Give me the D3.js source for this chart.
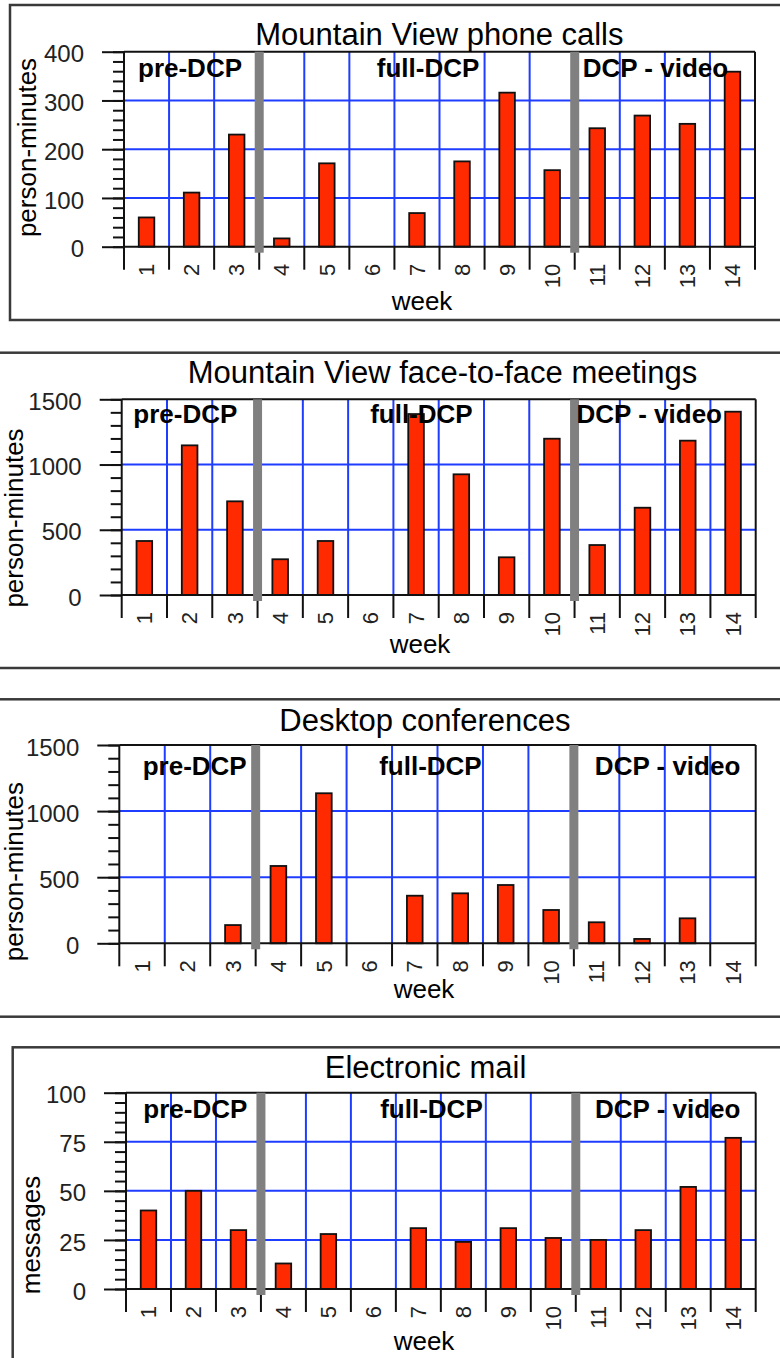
<!DOCTYPE html>
<html>
<head>
<meta charset="utf-8">
<script src="https://cdn.jsdelivr.net/npm/d3@7"></script>
<style>
html, body { margin: 0; padding: 0; background: #fff; }
svg { display: block; font-family: "Liberation Sans", Arial, Helvetica, sans-serif; }
</style>
</head>
<body>
<svg id="SVG_CONTAINER" width="780" height="1358"></svg>
<script>
// ---- data ----
const weeks = ["1", "2", "3", "4", "5", "6", "7", "8", "9", "10", "11", "12", "13", "14"];

const phoneCalls  = [60, 111, 230, 17, 171, 0, 69, 175, 316, 157, 243, 269, 252, 359];
const faceToFace  = [414, 1147, 718, 274, 414, 0, 1387, 925, 289, 1198, 383, 669, 1183, 1405];
const desktopConf = [0, 0, 138, 585, 1135, 0, 360, 378, 441, 252, 159, 33, 189, 0];
const emailMsgs   = [40, 50, 30, 13, 28, 0, 31, 24, 31, 26, 25, 30, 52, 77];

const phoneTicks   = [0, 100, 200, 300, 400];
const meetingTicks = [0, 500, 1000, 1500];
const desktopTicks = [0, 500, 1000, 1500];
const emailTicks   = [0, 25, 50, 75, 100];

const titles  = ["Mountain View phone calls", "Mountain View face-to-face meetings",
                 "Desktop conferences", "Electronic mail"];
const yLabels = ["person-minutes", "person-minutes", "person-minutes", "messages"];

const phaseNames      = ["pre-DCP", "full-DCP", "DCP - video"];
const phaseStartWeeks = ["1", "6", "11"];
const phaseBreaks     = [3, 10];   // grey divider after these weeks

// ---- colours ----
const RED  = "#ff2a00";
const BLUE = "#1f3dff";
const GREY = "#808080";

//layout of each panel (pixels)
const PANELS = [
    {title: titles[0], values: phoneCalls, ticks: phoneTicks, minor: 20, yLabel: yLabels[0],
     frame: {x: 10, y: 5, w: 775, h: 315},
     plot: {left: 124, right: 755, top: 51.7, bottom: 246.7},
     titleX: 439.4, titleY: 45, yLabelX: 36, yLabelY: 147.5, weekX: 422, weekY: 310,
     phaseY: 76.5, phaseDx: [14, 27.4, 8]},
    {title: titles[1], values: faceToFace, ticks: meetingTicks, minor: 100, yLabel: yLabels[1],
     frame: {x: -5, y: 352.7, w: 790, h: 315.3},
     plot: {left: 121.7, right: 755.7, top: 399.3, bottom: 595},
     titleX: 442.5, titleY: 382.7, yLabelX: 23, yLabelY: 518, weekX: 420, weekY: 653.3,
     phaseY: 423.3, phaseDx: [11.6, 22, 2]},
    {title: titles[2], values: desktopConf, ticks: desktopTicks, minor: 100, yLabel: yLabels[2],
     frame: {x: -5, y: 699.3, w: 790, h: 317.4},
     plot: {left: 119.3, right: 755.7, top: 745, bottom: 943.3},
     titleX: 424.9, titleY: 730.7, yLabelX: 23, yLabelY: 871.7, weekX: 424, weekY: 998.3,
     phaseY: 775, phaseDx: [23.4, 32.6, 21]},
    {title: titles[3], values: emailMsgs, ticks: emailTicks, minor: 5, yLabel: yLabels[3],
     frame: {x: 12.7, y: 1047.3, w: 775, h: 400},
     plot: {left: 126, right: 755.7, top: 1092.7, bottom: 1289},
     titleX: 425.5, titleY: 1077.7, yLabelX: 40, yLabelY: 1235, weekX: 424, weekY: 1350,
     phaseY: 1118.3, phaseDx: [17.3, 29.3, 19.2]}
];

let SVG = d3.select("#SVG_CONTAINER");
PANELS.forEach(p => drawPanel(SVG, p));

function drawPanel(svg, p) {
    const g = svg.append("g");
    const pl = p.plot;
    const yMax = p.ticks[p.ticks.length - 1];

    //** SCALES *****************************************
    const x = d3.scaleBand().domain(weeks).range([pl.left, pl.right]);
    const xEdge = d3.scaleLinear().domain([0, weeks.length]).range([pl.left, pl.right]);
    const y = d3.scaleLinear().domain([0, yMax]).range([pl.bottom, pl.top]);
    const edges = d3.range(0, weeks.length + 1);

    //frame
    g.append("rect")
        .attr("x", p.frame.x).attr("y", p.frame.y)
        .attr("width", p.frame.w).attr("height", p.frame.h)
        .attr("fill", "#fff").attr("stroke", "#3a3a3a").attr("stroke-width", 2.5);

    //** GRID *****************************************
    g.append("g").selectAll("line")
        .data(edges.slice(1, -1))
        .join("line")
        .attr("x1", d => xEdge(d)).attr("x2", d => xEdge(d))
        .attr("y1", pl.top).attr("y2", pl.bottom)
        .attr("stroke", BLUE).attr("stroke-width", 2);

    g.append("g").selectAll("line")
        .data(p.ticks.slice(1, -1))
        .join("line")
        .attr("x1", pl.left).attr("x2", pl.right)
        .attr("y1", d => y(d)).attr("y2", d => y(d))
        .attr("stroke", BLUE).attr("stroke-width", 2);

    //** BARS *****************************************
    const barW = x.bandwidth() * 0.345;
    const rows = weeks.map((w, i) => ({week: w, value: p.values[i]})).filter(d => d.value > 0);
    g.append("g").selectAll("rect")
        .data(rows)
        .join("rect")
        .attr("x", d => x(d.week) + (x.bandwidth() - barW) / 2)
        .attr("y", d => y(d.value))
        .attr("width", barW)
        .attr("height", d => y(0) - y(d.value))
        .attr("fill", RED).attr("stroke", "#111").attr("stroke-width", 1.8);

    //** AXES *****************************************
    g.append("g")
        .attr("transform", "translate(" + pl.left + ",0)")
        .call(d3.axisLeft(y).tickValues(d3.range(0, yMax + 1, p.minor)).tickSize(11).tickFormat(""))
        .call(a => {
            a.select(".domain").remove();
            a.selectAll("line").attr("stroke", "#111").attr("stroke-width", 2);
        });

    g.append("g")
        .attr("transform", "translate(" + pl.left + ",0)")
        .call(d3.axisLeft(y).tickValues(p.ticks).tickSize(22).tickPadding(18).tickFormat(d3.format("d")))
        .call(a => {
            a.select(".domain").remove();
            a.selectAll("line").attr("stroke", "#111").attr("stroke-width", 2);
            a.selectAll("text")
                .attr("fill", "#222").attr("dy", "0.42em")
                .style("font-size", "24px")
                .style("font-family", "'Liberation Sans', Arial, sans-serif");
        });

    //plot border and baseline
    const border = [
        [pl.left, pl.top, pl.left, pl.bottom],
        [pl.right, pl.top, pl.right, pl.bottom],
        [pl.left, pl.top, pl.right, pl.top],
        [pl.left, pl.bottom, pl.right, pl.bottom]
    ];
    g.append("g").selectAll("line")
        .data(border)
        .join("line")
        .attr("x1", d => d[0]).attr("y1", d => d[1])
        .attr("x2", d => d[2]).attr("y2", d => d[3])
        .attr("stroke", "#111").attr("stroke-width", 2);

    //week boundary ticks
    g.append("g").selectAll("line")
        .data(edges)
        .join("line")
        .attr("x1", d => xEdge(d)).attr("x2", d => xEdge(d))
        .attr("y1", pl.bottom).attr("y2", pl.bottom + 23)
        .attr("stroke", "#111").attr("stroke-width", 2);

    //week labels, rotated
    g.append("g")
        .attr("transform", "translate(0," + pl.bottom + ")")
        .call(d3.axisBottom(x).tickSize(0))
        .call(a => {
            a.select(".domain").remove();
            a.selectAll("text")
                .attr("y", 0).attr("dy", "0.35em")
                .attr("transform", "translate(0,17) rotate(-90)")
                .attr("text-anchor", "end")
                .attr("fill", "#222")
                .style("font-size", "22px")
                .style("font-family", "'Liberation Sans', Arial, sans-serif");
        });

    //grey phase dividers
    g.append("g").selectAll("rect")
        .data(phaseBreaks)
        .join("rect")
        .attr("x", d => xEdge(d) - 4.5)
        .attr("y", pl.top)
        .attr("width", 9)
        .attr("height", pl.bottom - pl.top + 6)
        .attr("fill", GREY);

    //** TEXT *****************************************
    g.append("g").selectAll("text")
        .data(phaseNames)
        .join("text")
        .attr("x", (d, i) => x(phaseStartWeeks[i]) + p.phaseDx[i])
        .attr("y", p.phaseY)
        .attr("font-weight", "bold")
        .style("font-size", "26px")
        .text(d => d);

    g.append("text")
        .attr("x", p.titleX).attr("y", p.titleY)
        .attr("text-anchor", "middle")
        .style("font-size", "31px")
        .text(p.title);

    g.append("text")
        .attr("transform", "translate(" + p.yLabelX + "," + p.yLabelY + ") rotate(-90)")
        .attr("text-anchor", "middle")
        .style("font-size", "26px")
        .text(p.yLabel);

    g.append("text")
        .attr("x", p.weekX).attr("y", p.weekY)
        .attr("text-anchor", "middle")
        .style("font-size", "26px")
        .text("week");
}
</script>
</body>
</html>
